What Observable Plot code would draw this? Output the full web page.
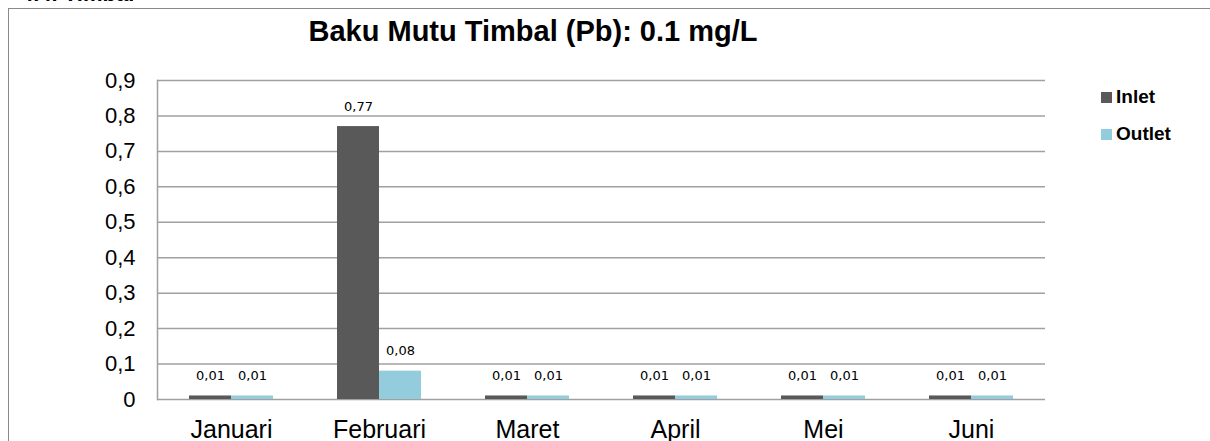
<!DOCTYPE html>
<html>
<head>
<meta charset="utf-8">
<script src="https://cdn.jsdelivr.net/npm/d3@7"></script>
<script src="https://cdn.jsdelivr.net/npm/@observablehq/plot@0.6"></script>
<style>
  html, body { margin: 0; padding: 0; background: #fff; }
  body { width: 1210px; height: 441px; position: relative; overflow: hidden; font-family: "Liberation Sans", Arial, sans-serif; }
  #cut { position: absolute; left: 21px; top: -17px; font-size: 22px; font-weight: bold; color: #000; line-height: 22px; }
  #box { position: absolute; left: 8px; top: 8px; width: 1210px; height: 440px; border-left: 1.5px solid #8a8a8a; border-top: 1.5px solid #8a8a8a; box-sizing: border-box; }
  #title { position: absolute; left: 0; width: 1066px; text-align: center; top: 14px; font-size: 29px; font-weight: bold; color: #000; line-height: 34px; }
  #chart { position: absolute; left: 0; top: 0; }
  .leg { position: absolute; left: 1101px; font-size: 19px; font-weight: bold; color: #000; line-height: 20px; display: flex; align-items: center; }
  .leg span.sw { display: inline-block; width: 11px; height: 11px; margin-right: 4px; }
</style>
</head>
<body>
<div id="cut">4.4. Timbal</div>
<div id="box"></div>
<div id="chart"></div>
<div id="title">Baku Mutu Timbal (Pb): 0.1 mg/L</div>
<div class="leg" style="top:87px"><span class="sw" style="background:#595959"></span>Inlet</div>
<div class="leg" style="top:124px"><span class="sw" style="background:#93CDDD"></span>Outlet</div>
<script>
const months = ["Januari", "Februari", "Maret", "April", "Mei", "Juni"];
const inlet = [0.01, 0.77, 0.01, 0.01, 0.01, 0.01];
const outlet = [0.01, 0.08, 0.01, 0.01, 0.01, 0.01];
const yTicks = [0, 0.1, 0.2, 0.3, 0.4, 0.5, 0.6, 0.7, 0.8, 0.9];
const seriesNames = ["Inlet", "Outlet"];
const seriesColors = ["#595959", "#93CDDD"];

const inletRows = months.map((m, i) => ({month: m, value: inlet[i]}));
const outletRows = months.map((m, i) => ({month: m, value: outlet[i]}));
const fmt = v => v === 0 ? "0" : d3.format(".2~f")(v).replace(".", ",");

const grid = "#a0a0a0";
const chart = Plot.plot({
  width: 1210,
  height: 441,
  marginLeft: 157,
  marginRight: 165,
  marginTop: 80,
  marginBottom: 42,
  style: {fontFamily: "'Liberation Sans', Arial, sans-serif", background: "transparent", color: "#000"},
  x: {domain: months, padding: 0, label: null},
  y: {domain: [0, 0.9], label: null},
  marks: [
    Plot.ruleY(yTicks, {stroke: grid, strokeWidth: 1.5}),
    Plot.frame({anchor: "left", stroke: grid, strokeWidth: 1.5}),
    Plot.barY(inletRows, {x: "month", y: "value", fill: seriesColors[0], insetLeft: 32, insetRight: 74}),
    Plot.barY(outletRows, {x: "month", y: "value", fill: seriesColors[1], insetLeft: 74, insetRight: 32}),
    Plot.text(inletRows, {x: "month", y: "value", text: d => fmt(d.value), dx: -21, dy: -20, fontSize: 13, fontFamily: "'DejaVu Sans', sans-serif", fill: "#000"}),
    Plot.text(outletRows, {x: "month", y: "value", text: d => fmt(d.value), dx: 21, dy: -20, fontSize: 13, fontFamily: "'DejaVu Sans', sans-serif", fill: "#000"}),
    Plot.axisY(yTicks, {tickSize: 0, tickPadding: 22, fontSize: 22, tickFormat: fmt, fill: "#000", label: null}),
    Plot.axisX({tickSize: 0, tickPadding: 21, fontSize: 25, fill: "#000", label: null})
  ]
});
document.getElementById("chart").appendChild(chart);
</script>
</body>
</html>
